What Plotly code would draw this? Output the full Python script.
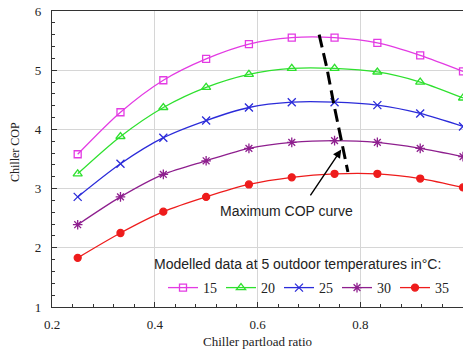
import plotly.graph_objects as go

plr = [0.25, 0.3333, 0.4167, 0.5, 0.5833, 0.6667, 0.75, 0.8333, 0.9167, 1.0]
cop_15 = [3.58, 4.29, 4.83, 5.19, 5.44, 5.55, 5.55, 5.46, 5.25, 4.98]
cop_20 = [3.25, 3.88, 4.37, 4.71, 4.93, 5.03, 5.03, 4.97, 4.80, 4.53]
cop_25 = [2.86, 3.42, 3.86, 4.15, 4.37, 4.46, 4.46, 4.41, 4.27, 4.05]
cop_30 = [2.39, 2.86, 3.24, 3.47, 3.68, 3.78, 3.81, 3.78, 3.68, 3.54]
cop_35 = [1.83, 2.25, 2.61, 2.86, 3.07, 3.19, 3.25, 3.25, 3.17, 3.02]
temps = ["15", "20", "25", "30", "35"]
max_cop_x = [0.72, 0.735, 0.748, 0.762, 0.776]
max_cop_y = [5.60, 5.04, 4.45, 3.85, 3.28]

series = [cop_15, cop_20, cop_25, cop_30, cop_35]
colors = ["#e33be3", "#2ee02e", "#2b2bd9", "#8e1f8e", "#ee1c1c"]
symbols = ["square-open", "triangle-up-open", "x-thin-open", "asterisk-open", "circle"]
sizes = [7, 8, 8, 8, 7]

fig = go.Figure()
for name, ys, c, s, sz in zip(temps, series, colors, symbols, sizes):
    fig.add_trace(go.Scatter(
        x=plr, y=ys, name=name, mode="lines+markers",
        line=dict(color=c, width=1.3, shape="spline", smoothing=0.8),
        marker=dict(symbol=s, size=sz, color=c, line=dict(color=c, width=1.3)),
    ))

fig.add_trace(go.Scatter(
    x=max_cop_x, y=max_cop_y, mode="lines", showlegend=False,
    line=dict(color="black", width=3, dash="13px,6px"),
))

serif = "Liberation Serif, Times New Roman, serif"
sans = "Liberation Sans, Arial, sans-serif"

# plot area spans screen x 52..463, y 11..307
PW, PH = 411.0, 296.0

fig.add_annotation(x=0.656, y=2.63, xref="x", yref="y", text="Maximum COP curve",
                   showarrow=False, font=dict(family=sans, size=14, color="#222"))
fig.add_annotation(x=0.763, y=3.66, xref="x", yref="y", ax=0.701, ay=2.86,
                   axref="x", ayref="y", text="", showarrow=True,
                   arrowhead=2, arrowsize=1.2, arrowwidth=1.4, arrowcolor="black")
# legend heading
fig.add_annotation(x=(152 - 52) / PW, y=(307 - 264) / PH, xref="paper", yref="paper",
                   xanchor="left", yanchor="middle", showarrow=False,
                   text="Modelled data at 5 outdoor temperatures in°C:",
                   font=dict(family=sans, size=14, color="#222"))
# axis titles
fig.add_annotation(x=0.5, y=(307 - 341) / PH, xref="paper", yref="paper",
                   xanchor="center", yanchor="middle", showarrow=False,
                   text="Chiller partload ratio", font=dict(family=serif, size=13, color="#222"))
fig.add_annotation(x=(15 - 52) / PW, y=(307 - 152) / PH, xref="paper", yref="paper",
                   xanchor="center", yanchor="middle", showarrow=False, textangle=-90,
                   text="Chiller COP", font=dict(family=serif, size=12, color="#222"))

fig.update_layout(
    width=463, height=349,
    margin=dict(l=52, r=0, t=11, b=42, autoexpand=False),
    plot_bgcolor="white", paper_bgcolor="white",
    font=dict(family=serif, size=13, color="#222"),
    showlegend=True,
    legend=dict(
        orientation="h", x=(163 - 52) / PW, xanchor="left",
        y=(307 - 288) / PH, yanchor="middle",
        bgcolor="rgba(0,0,0,0)",
        font=dict(family=serif, size=14, color="#222"),
        entrywidth=13, entrywidthmode="pixels",
        itemwidth=30, tracegroupgap=0,
    ),
    xaxis=dict(
        range=[0.2, 1.0], tickvals=[0.2, 0.4, 0.6, 0.8], ticktext=["0.2", "0.4", "0.6", "0.8"],
        showgrid=True, gridcolor="#d6d6d6", gridwidth=1, zeroline=False,
        showline=True, linecolor="#333", linewidth=1.2, mirror=True,
        ticks="inside", ticklen=5, tickcolor="#333", automargin=False,
        minor=dict(dtick=0.04, ticks="inside", ticklen=3, tickcolor="#333", showgrid=False),
        tickfont=dict(family=serif, size=13), ticklabelstandoff=5,
        ticklabeloverflow="allow",
    ),
    yaxis=dict(
        range=[1, 6], dtick=1,
        showgrid=True, gridcolor="#d6d6d6", gridwidth=1, zeroline=False,
        showline=True, linecolor="#333", linewidth=1.2, mirror=True,
        ticks="inside", ticklen=5, tickcolor="#333", automargin=False,
        minor=dict(dtick=0.2, ticks="inside", ticklen=3, tickcolor="#333", showgrid=False),
        tickfont=dict(family=serif, size=13), ticklabelstandoff=7,
        ticklabeloverflow="allow",
    ),
)

fig.write_html("out.html", config={"displayModeBar": False},
               post_script="document.body.style.margin='0';")
